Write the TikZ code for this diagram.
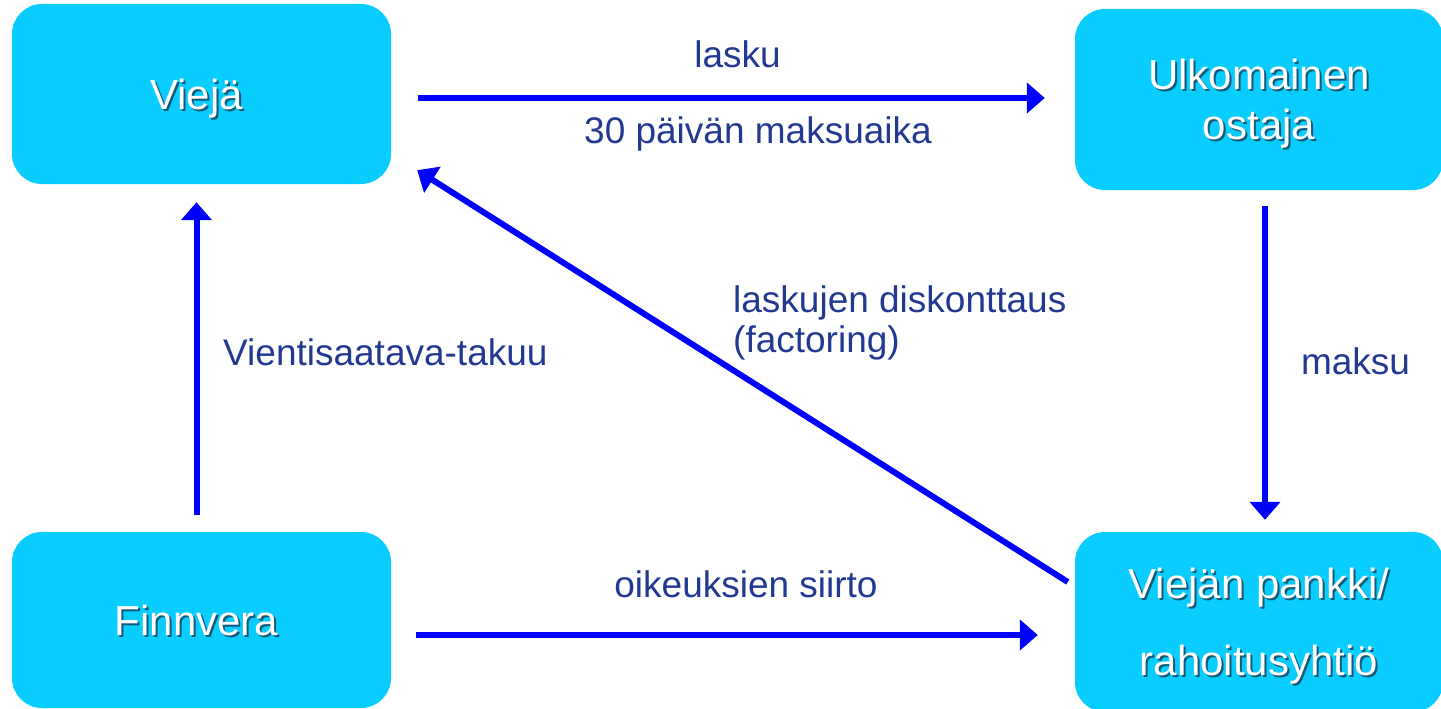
\documentclass[tikz,border=0pt]{standalone}
\usepackage{fontspec}
\setmainfont{Liberation Sans}
\usetikzlibrary{arrows.meta,calc}
\definecolor{boxc}{RGB}{10,205,255}
\definecolor{arrc}{RGB}{0,0,255}
\definecolor{labc}{RGB}{35,57,145}
\definecolor{shadc}{RGB}{20,90,120}
\newcommand\shd[1]{\makebox[0pt][l]{\hspace{2pt}\raisebox{-2pt}{\textcolor{shadc}{#1}}}#1}
\begin{document}
\begin{tikzpicture}[x=1pt,y=-1pt,
  box/.style={fill=boxc, rounded corners=30pt, inner sep=0pt, text=white,
    font=\fontsize{42}{50}\selectfont, align=center, text depth=0pt},
  lab/.style={text=labc, inner sep=0pt, anchor=base,
    font=\fontsize{37}{40}\selectfont},
  arr/.style={draw=arrc, line width=6pt, -{Triangle[length=18pt,width=30pt]}}]
\useasboundingbox (0,0) rectangle (1441,709);
\node[box, minimum width=379pt, minimum height=180pt] (viej) at (201.5,94) {\shd{Viejä}\kern10pt};
\node[box, minimum width=368pt, minimum height=181pt] (ulk) at (1259,99.5) {\shd{Ulkomainen}\\\shd{ostaja}};
\node[box, minimum width=379pt, minimum height=176pt] (finn) at (201.5,620) {\shd{Finnvera}\kern10pt};
\node[box, minimum width=368pt, minimum height=180pt] (pank) at (1259,622) {\shd{Viejän pankki/}\\[27pt]\shd{rahoitusyhtiö}};
\draw[arr] ([shift={(27,4)}]viej.east) -- ([shift={(-30,-1.5)}]ulk.west);
\draw[arr] ([shift={(-5,-17)}]finn.north) -- ([shift={(-5,18)}]viej.south);
\draw[arr] ([shift={(-7,-40)}]pank.west) -- ([shift={(26,-14)}]viej.south east);
\draw[arr] ([shift={(6,16)}]ulk.south) -- ([shift={(6,-12)}]pank.north);
\draw[arr] ([shift={(25,15)}]finn.east) -- ([shift={(-37,13)}]pank.west);
\node[lab] (l1) at (737.5,67) {lasku};
\node[lab] (l2) at (758,143) {30 päivän maksuaika};
\node[lab, anchor=base west] (l3) at (223,365) {Vientisaatava-takuu};
\node[lab, anchor=base west] (l4) at (733,312) {laskujen diskonttaus};
\node[lab, anchor=base west] (l5) at (733,352) {(factoring)};
\node[lab] (l6) at (1355.5,374) {maksu};
\node[lab] (l7) at (746,597) {oikeuksien siirto};
\end{tikzpicture}
\end{document}
